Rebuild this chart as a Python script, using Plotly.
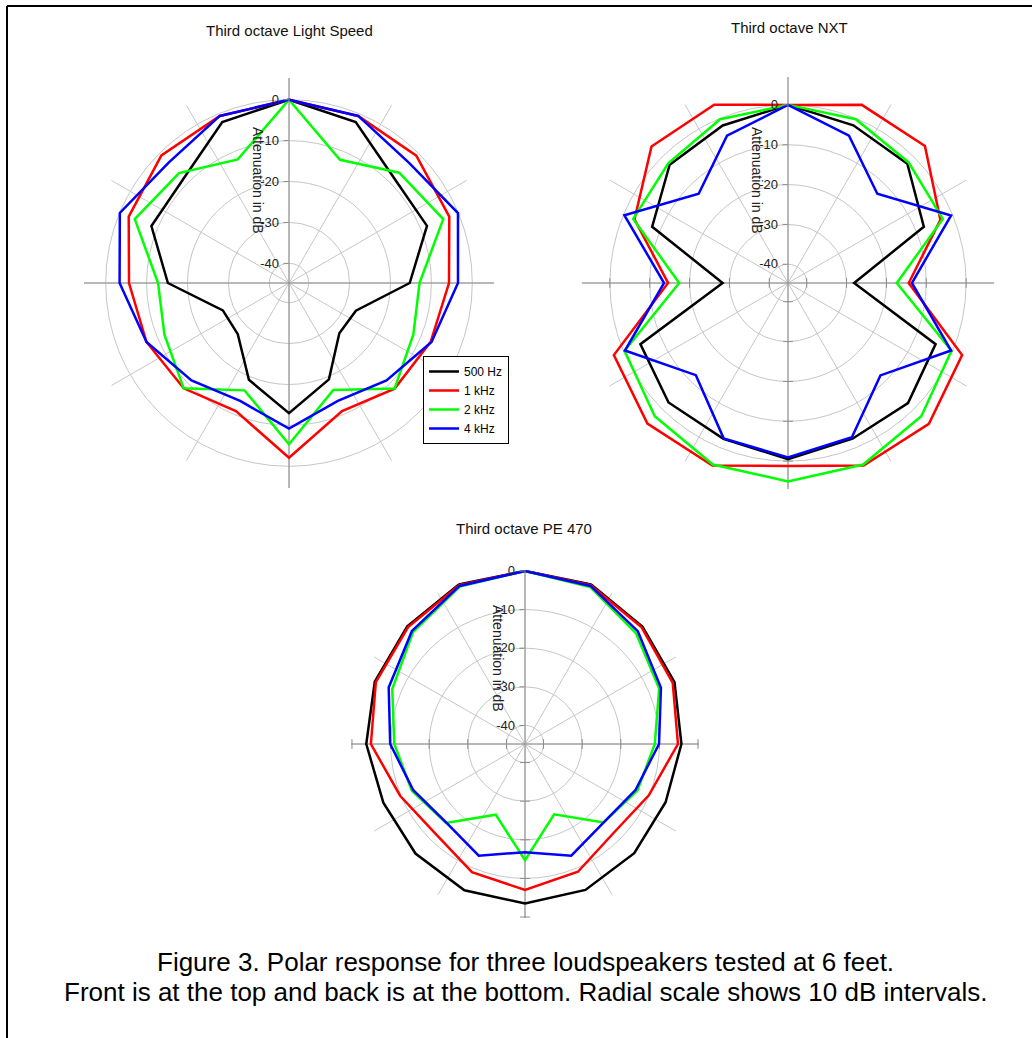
import plotly.graph_objects as go

W, H = 1032, 1038

# ---------------- data (dB, clockwise from front = top) ----------------
ANGLES = [0, 22.5, 45, 67.5, 90, 112.5, 135, 157.5, 180, 202.5, 225, 247.5, 270, 292.5, 315, 337.5]
SERIES_NAMES = ["500 Hz", "1 kHz", "2 kHz", "4 kHz"]
SERIES_COLORS = ["#000000", "#ff0000", "#00ff00", "#0000ff"]

ls_500 = [0, -2.2, -8.5, -8.3, -15.3, -27.1, -27.4, -19.3, -13.0, -19.2, -27.1, -27.3, -15.2, -8.4, -8.5, -2.2]
ls_1k = [0, -0.6, -0.8, -2.4, -5.7, -7.3, -8.3, -10.9, -2.1, -10.9, -8.4, -7.1, -5.7, -2.4, -0.7, -0.6]
ls_2k = [0, -12.2, -6.7, -4.0, -12.9, -11.9, -8.3, -16.5, -5.4, -16.4, -8.4, -11.85, -12.8, -4.0, -6.8, -12.1]
ls_4k = [0, -0.6, -3.3, -0.1, -3.5, -7.1, -11.1, -13.6, -9.2, -13.6, -11.1, -7.1, -3.4, -0.05, -3.2, -0.6]

nxt_500 = [0, -1.85, -2.35, -7.8, -28.1, -4.6, -2.1, -2.4, -0.5, -2.35, -2.3, -4.6, -28.3, -7.8, -2.7, -1.9]
nxt_1k = [0, 3.7, 3.9, -3.3, -14.4, 2.6, 5.3, 4.9, 1.2, 4.9, 5.2, 2.6, -14.6, -3.0, 3.75, 3.7]
nxt_2k = [0, -0.2, -1.9, -2.65, -17.4, -0.3, 2.6, 4.6, 5.1, 4.6, 2.6, -0.3, -17.4, -2.65, -2.2, -0.2]
nxt_4k = [0, -4.7, -13.0, -0.4, -13.6, -0.4, -11.9, -2.8, -0.9, -2.5, -12.0, -0.4, -13.6, -0.25, -13.0, -4.7]

pe_500 = [0, -0.1, -1.8, -2.9, -4.3, -5.4, -4.8, -3.9, -3.5, -3.8, -4.7, -5.1, -3.7, -2.7, -1.7, -0.1]
pe_1k = [0, -0.3, -2.1, -3.4, -5.2, -10.1, -12.3, -9.0, -7.0, -8.9, -12.0, -9.8, -4.9, -3.0, -2.0, -0.3]
pe_2k = [0, -0.8, -4.2, -7.2, -11.2, -13.3, -16.05, -25.1, -14.7, -25.0, -15.9, -13.1, -10.95, -7.6, -3.8, -0.7]
pe_4k = [0, -0.5, -3.5, -6.7, -10.1, -13.8, -16.05, -13.5, -16.8, -13.5, -16.0, -13.5, -9.9, -6.6, -3.4, -0.5]

TITLES = ["Third octave Light Speed", "Third octave NXT", "Third octave PE 470"]
RADIAL_TICKS = [-40, -30, -20, -10, 0]
RADIAL_TICKTEXT = ["-40", "-30", "-20", "-10", "0"]
AXIS_TITLE = "Attenuation in dB"
CAPTION_LINES = ["Figure 3. Polar response for three loudspeakers tested at 6 feet.",
                 "Front is at the top and back is at the bottom. Radial scale shows 10 dB intervals."]

# ---------------- layout geometry (pixels) ----------------
PANELS = [
    dict(cx=289, cy=283, rad=205, rng=[-44.8, 5.3], data=[ls_500, ls_1k, ls_2k, ls_4k],
         title_xy=(289, 30), lab_xy=(258, 180), extra_ticks=False),
    dict(cx=788, cy=283, rad=206, rng=[-44.7, 7.0], data=[nxt_500, nxt_1k, nxt_2k, nxt_4k],
         title_xy=(789, 27), lab_xy=(757, 180), extra_ticks=True),
    dict(cx=525, cy=744, rad=174, rng=[-44.8, 0.25], data=[pe_500, pe_1k, pe_2k, pe_4k],
         title_xy=(524, 528), lab_xy=(498, 658), extra_ticks=True),
]

GRID = "#c6c6c6"
AXIS = "#8c8c8c"
FONT = "Arial, Liberation Sans, sans-serif"

def px(x):
    return x / W

def py(y):
    return 1 - y / H

fig = go.Figure()
layout_polars = {}
annotations = []

for i, p in enumerate(PANELS):
    key = "polar" if i == 0 else f"polar{i+1}"
    sub = key
    layout_polars[key] = dict(
        domain=dict(x=[px(p["cx"] - p["rad"]), px(p["cx"] + p["rad"])],
                    y=[py(p["cy"] + p["rad"]), py(p["cy"] - p["rad"])]),
        bgcolor="white",
        radialaxis=dict(range=p["rng"], angle=90, tickvals=RADIAL_TICKS, ticktext=RADIAL_TICKTEXT,
                        showline=True, linecolor=AXIS, linewidth=1, ticks="outside", ticklen=5,
                        tickcolor=AXIS, gridcolor=GRID, gridwidth=1, side="counterclockwise",
                        tickangle=90,
                        tickfont=dict(family=FONT, size=13, color="#222222")),
        angularaxis=dict(direction="clockwise", rotation=90, dtick=30, showticklabels=False,
                         ticks="", showline=False, gridcolor=GRID, gridwidth=1),
    )
    rmin, rmax = p["rng"]
    for th in [90, 180, 270]:
        fig.add_trace(go.Scatterpolar(r=[rmin, rmax], theta=[th, th], mode="lines",
                                      line=dict(color=AXIS, width=1), subplot=sub,
                                      showlegend=False, hoverinfo="skip"))
    if p["extra_ticks"]:
        fig.add_trace(go.Scatterpolar(r=RADIAL_TICKS * 2, theta=[90] * 5 + [270] * 5, mode="markers",
                                      marker=dict(symbol="line-ns", size=7, line=dict(color=AXIS, width=1)),
                                      subplot=sub, showlegend=False, hoverinfo="skip"))
        fig.add_trace(go.Scatterpolar(r=RADIAL_TICKS, theta=[180] * 5, mode="markers",
                                      marker=dict(symbol="line-ew", size=7, line=dict(color=AXIS, width=1)),
                                      subplot=sub, showlegend=False, hoverinfo="skip"))
    for name, color, vals in zip(SERIES_NAMES, SERIES_COLORS, p["data"]):
        fig.add_trace(go.Scatterpolar(r=vals + vals[:1], theta=ANGLES + ANGLES[:1], mode="lines",
                                      name=name, line=dict(color=color, width=2.5),
                                      subplot=sub, showlegend=(i == 0)))
    annotations.append(dict(x=px(p["title_xy"][0]), y=py(p["title_xy"][1]), xref="paper", yref="paper",
                            text=TITLES[i], showarrow=False, xanchor="center", yanchor="middle",
                            font=dict(family=FONT, size=15, color="#111111")))
    annotations.append(dict(x=px(p["lab_xy"][0]), y=py(p["lab_xy"][1]), xref="paper", yref="paper",
                            text=AXIS_TITLE, showarrow=False, textangle=90, xanchor="center",
                            yanchor="middle", font=dict(family=FONT, size=14, color="#222222")))

for line, yy in zip(CAPTION_LINES, [962, 992]):
    annotations.append(dict(x=px(525), y=py(yy), xref="paper", yref="paper", text=line,
                            showarrow=False, xanchor="center", yanchor="middle",
                            font=dict(family=FONT, size=26, color="#000000")))

fig.update_layout(
    width=W, height=H,
    margin=dict(l=0, r=0, t=0, b=0),
    paper_bgcolor="white",
    plot_bgcolor="white",
    showlegend=True,
    legend=dict(x=px(423), y=py(356), xanchor="left", yanchor="top",
                bordercolor="#000000", borderwidth=1, bgcolor="white",
                font=dict(family=FONT, size=12, color="#000000"),
                itemwidth=30, tracegroupgap=0),
    annotations=annotations,
    shapes=[
        dict(type="line", xref="paper", yref="paper", x0=px(7), x1=1.0, y0=py(6), y1=py(6),
             line=dict(color="black", width=2)),
        dict(type="line", xref="paper", yref="paper", x0=px(7), x1=px(7), y0=py(6), y1=0.0,
             line=dict(color="black", width=2)),
    ],
    **layout_polars,
)

fig.write_html("out.html", config={"displayModeBar": False},
               post_script="document.body.style.margin='0';")
